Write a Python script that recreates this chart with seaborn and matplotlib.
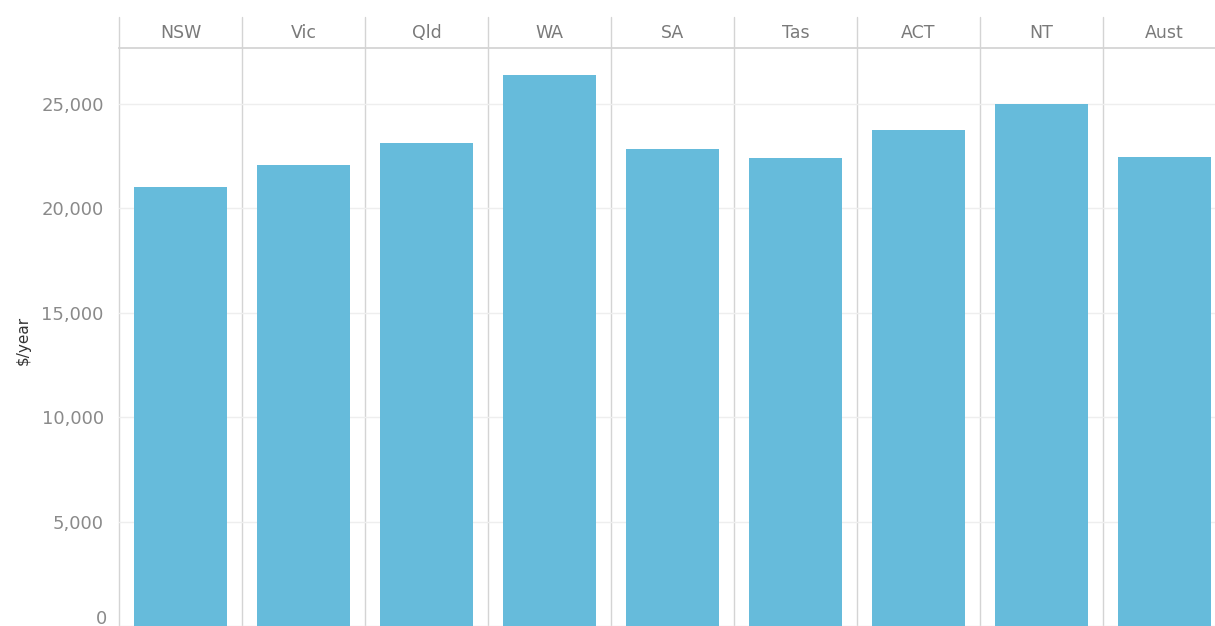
import numpy as np
import pandas as pd
import matplotlib
matplotlib.use("Agg")
import matplotlib.pyplot as plt
import seaborn as sns

# Données
states = ["NSW", "Vic", "Qld", "WA", "SA", "Tas", "ACT", "NT", "Aust"]
values = [21000, 22050, 23100, 26380, 22810, 22390, 23720, 25000, 22430]
yticks = [0, 5000, 10000, 15000, 20000, 25000]

bar_color = "#66bbdb"
sep_color = "#d4d4d4"
grid_color = "#eeeeee"
text_color = "#8a8a8a"

sns.set_style("white")
plt.rcParams["font.family"] = ["DejaVu Sans"]

W, H = 1215, 626
fig = plt.figure(figsize=(W / 100, H / 100), dpi=100)

# Zone principale et bandeau d'en-tête
ax = fig.add_axes([119 / W, 0, (W - 119) / W, (H - 48) / H])
hax = fig.add_axes([119 / W, (H - 48) / H, (W - 119) / W, 31 / H], sharex=ax)

df = pd.DataFrame({"state": states, "value": values})
sns.barplot(data=df, x="state", y="value", ax=ax, color=bar_color,
            saturation=1, width=0.75, order=states, linewidth=0)

# l'axe se prolonge un peu sous le bord de l'image
ax.set_xlim(-0.5, 8.5 - 11 / 123)
ax.set_ylim(190, 27660)
ax.set_xlabel("")
ax.set_ylabel("")
ax.set_xticks([])

ax.set_yticks(yticks)
ax.set_yticklabels([""] + [f"{v:,}" for v in yticks[1:]])
ax.tick_params(axis="y", length=7, color=grid_color, width=1, pad=4,
               labelsize=13, labelcolor=text_color)
ax.annotate("0", xy=(0, 0), xycoords=ax.get_yaxis_transform(),
            xytext=(-12, 7), textcoords="offset pixels",
            ha="right", va="center", fontsize=13, color=text_color,
            annotation_clip=False)
ax.yaxis.grid(True, color=grid_color, lw=1)
ax.set_axisbelow(True)
for s in ax.spines.values():
    s.set_visible(False)

# Séparateurs verticaux
for i in range(len(states)):
    ax.axvline(i - 0.5, color=sep_color, lw=1, zorder=0.5, clip_on=False)
    hax.axvline(i - 0.5, color=sep_color, lw=1, clip_on=False)

# En-tête
hax.set_ylim(0, 1)
hax.set_xticks([])
hax.set_yticks([])
for s in ["top", "left", "right"]:
    hax.spines[s].set_visible(False)
hax.spines["bottom"].set_color(sep_color)
hax.spines["bottom"].set_linewidth(1.3)
for i, st in enumerate(states):
    hax.text(i, 0.5, st, ha="center", va="center", fontsize=12.5,
             color="#7a7a7a")

fig.text(23 / W, (H - 340) / H, "$/year", rotation=90, ha="center",
         va="center", fontsize=11, color="#333333")

fig.savefig("out.png", dpi=100)
